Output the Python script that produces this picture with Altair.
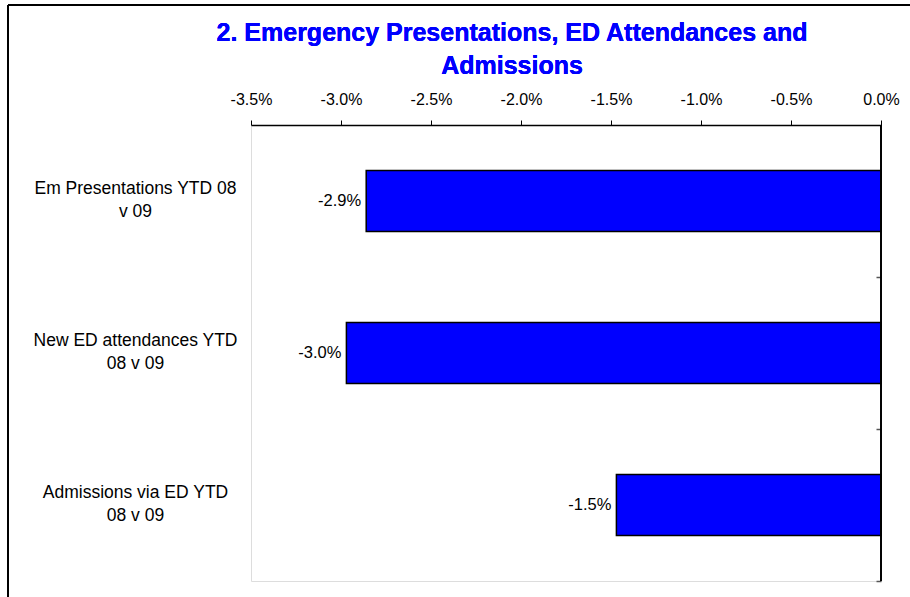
import altair as alt
import pandas as pd

categories = [
    "Em Presentations YTD 08\nv 09",
    "New ED attendances YTD\n08 v 09",
    "Admissions via ED YTD\n08 v 09",
]
values = [-0.0286, -0.0297, -0.0147]
labels = ["-2.9%", "-3.0%", "-1.5%"]
x_ticks = [-0.035, -0.03, -0.025, -0.02, -0.015, -0.01, -0.005, 0.0]
title_lines = ["2. Emergency Presentations, ED Attendances and", "Admissions"]

df = pd.DataFrame({"cat": categories, "val": values, "lab": labels})

FONT = "Liberation Sans"
W, H = 630, 456

yscale = alt.Scale(paddingInner=0.6, paddingOuter=0.3)
xscale = alt.Scale(domain=[-0.035, 0.0], nice=False)

xaxis = alt.Axis(
    orient="top", values=x_ticks, grid=False,
    labelExpr="replace(format(datum.value, '.1%'), '\u2212', '-')",
    domainColor="black", domainWidth=1.5, tickColor="black", tickSize=5,
    labelFont=FONT, labelFontSize=16, labelColor="black", labelPadding=13,
    title=None, labelFlush=False,
)

bars = alt.Chart(df).mark_bar(color="#0000FF", stroke="black", strokeWidth=1.5).encode(
    x=alt.X("val:Q", scale=xscale, axis=xaxis),
    x2=alt.datum(0),
    y=alt.Y("cat:N", sort=None, scale=yscale, axis=alt.Axis(
        orient="left", domain=False, ticks=False, labelAlign="center",
        labelPadding=116, labelFont=FONT, labelFontSize=17.5, labelColor="black",
        labelLineHeight=23, labelExpr="split(datum.label, '\\n')", title=None,
        labelLimit=300, labelOffset=-12,
    )),
)

text = alt.Chart(df).mark_text(align="right", baseline="middle", dx=-5, font=FONT,
                               fontSize=16.5, color="black").encode(
    x=alt.X("val:Q", scale=xscale, axis=xaxis),
    y=alt.Y("cat:N", sort=None, scale=yscale, axis=alt.Axis(
        orient="right", labels=False, domain=False, offset=-5,
        tickColor="#555555", tickWidth=1.5, tickSize=5, tickOffset=76, title=None,
    )),
    text="lab:N",
)

right_border = alt.Chart(df).mark_rule(color="black", strokeWidth=1.5).encode(
    x=alt.value(W), y=alt.value(0), y2=alt.value(H)
)
frame_left = alt.Chart(df).mark_rule(color="black", strokeWidth=2).encode(
    x=alt.value(-243), y=alt.value(-120), y2=alt.value(H + 30)
)
frame_top = alt.Chart(df).mark_rule(color="black", strokeWidth=2).encode(
    x=alt.value(-243), x2=alt.value(W + 40), y=alt.value(-120)
)
title1 = alt.Chart(df).mark_text(font=FONT, fontSize=25, fontWeight="bold", color="#0000FF",
                                 align="center", baseline="middle").encode(
    x=alt.value(261), y=alt.value(-92), text=alt.value(title_lines[0])
)
title2 = alt.Chart(df).mark_text(font=FONT, fontSize=25, fontWeight="bold", color="#0000FF",
                                 align="center", baseline="middle").encode(
    x=alt.value(261), y=alt.value(-59), text=alt.value(title_lines[1])
)

chart = alt.layer(bars, text, right_border, frame_left, frame_top, title1, title2).resolve_axis(
    y="independent"
).properties(
    width=W, height=H,
    autosize=alt.AutoSizeParams(type="none"),
    padding={"left": 251, "top": 125, "right": 29, "bottom": 16},
).configure_view(stroke="#808080", strokeWidth=1.5).configure(background="white")

chart.save("out.html", embed_options={"renderer": "svg", "actions": False})
